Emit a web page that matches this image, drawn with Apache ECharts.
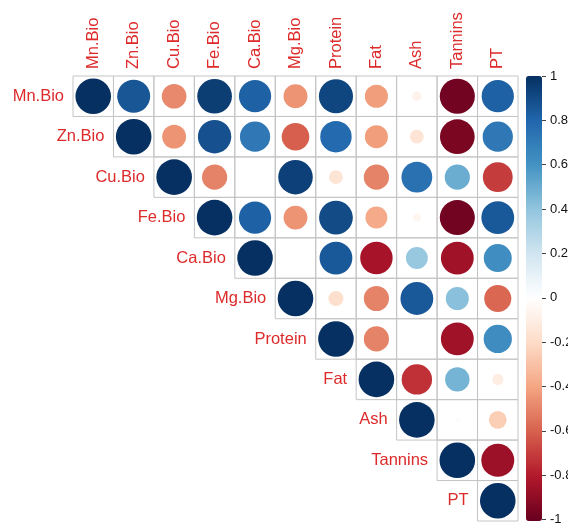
<!DOCTYPE html>
<html>
<head>
<meta charset="utf-8">
<script src="https://cdn.jsdelivr.net/npm/echarts@6/dist/echarts.min.js"></script>
<style>
  html, body { margin: 0; padding: 0; background: #fff; }
  #chart { width: 568px; height: 526px; }
</style>
</head>
<body>
<div id="chart"></div>
<script>
// Variable names (row and column order)
const variables = ['Mn.Bio', 'Zn.Bio', 'Cu.Bio', 'Fe.Bio', 'Ca.Bio', 'Mg.Bio', 'Protein', 'Fat', 'Ash', 'Tannins', 'PT'];

// Upper triangle of the correlation matrix, each row starting at the diagonal
const mnBio   = [1, 0.86, -0.48, 0.95, 0.82, -0.45, 0.92, -0.42, -0.07, -0.97, 0.82];
const znBio   = [1, -0.45, 0.88, 0.72, -0.60, 0.78, -0.42, -0.15, -0.95, 0.72];
const cuBio   = [1, -0.50, 0.00, 0.94, -0.15, -0.50, 0.75, 0.50, -0.70];
const feBio   = [1, 0.82, -0.45, 0.90, -0.38, -0.05, -0.97, 0.85];
const caBio   = [1, 0.01, 0.85, -0.83, 0.38, -0.85, 0.62];
const mgBio   = [1, -0.18, -0.50, 0.85, 0.42, -0.58];
const protein = [1, -0.50, 0.01, -0.85, 0.63];
const fat     = [1, -0.73, 0.47, -0.10];
const ash     = [1, 0.02, -0.25];
const tannins = [1, -0.86];
const pt      = [1];

const rows = [mnBio, znBio, cuBio, feBio, caBio, mgBio, protein, fat, ash, tannins, pt];

// Colour-bar tick settings
const barMin = -1;
const barMax = 1;
const barStep = 0.2;

// RdBu diverging palette, from -1 to 1
const rdbu = ['#67001F', '#B2182B', '#D6604D', '#F4A582', '#FDDBC7', '#FFFFFF',
              '#D1E5F0', '#92C5DE', '#4393C3', '#2166AC', '#053061'];

// [column, row, r]
const cells = [];
rows.forEach((vals, i) => {
  vals.forEach((v, k) => cells.push([i + k, i, v]));
});

const labelRed = '#DD2A2A';
const labelFont = 'Liberation Sans, Arial, sans-serif';

const chart = echarts.init(document.getElementById('chart'), null, { renderer: 'canvas' });

chart.setOption({
  backgroundColor: '#ffffff',
  animation: false,
  grid: [
    { left: 73, top: 76, width: 445, height: 445 },
    { left: 542, top: 76, width: 1, height: 445 }
  ],
  xAxis: [
    {
      type: 'category', data: variables, position: 'top', gridIndex: 0,
      axisLine: { show: false }, axisTick: { show: false }, splitLine: { show: false },
      axisLabel: { rotate: -90, margin: 7, color: labelRed, fontSize: 16.5, fontFamily: labelFont }
    },
    { type: 'value', gridIndex: 1, show: false, min: 0, max: 1 }
  ],
  yAxis: [
    {
      type: 'category', data: variables, inverse: true, gridIndex: 0,
      axisLine: { show: false }, axisTick: { show: false }, splitLine: { show: false },
      axisLabel: { show: false }
    },
    {
      type: 'value', gridIndex: 1, position: 'left', min: barMin, max: barMax, interval: barStep,
      axisLine: { show: false },
      axisTick: { show: true, inside: true, length: 4, lineStyle: { color: '#444' } },
      splitLine: { show: false },
      axisLabel: { inside: true, margin: 8, color: '#111', fontSize: 13, fontFamily: labelFont }
    }
  ],
  visualMap: {
    type: 'continuous',
    dimension: 2,
    min: barMin,
    max: barMax,
    calculable: false,
    realtime: false,
    left: 526,
    top: 76,
    itemWidth: 16,
    itemHeight: 445,
    padding: 0,
    text: null,
    inRange: { color: rdbu },
    seriesIndex: 0
  },
  series: [{
    type: 'custom',
    coordinateSystem: 'cartesian2d',
    xAxisIndex: 0,
    yAxisIndex: 0,
    data: cells,
    renderItem: function (params, api) {
      const col = api.value(0);
      const row = api.value(1);
      const r = api.value(2);
      const c = api.coord([col, row]);
      const s = api.size([1, 1]);
      const w = s[0], h = s[1];
      const children = [
        {
          type: 'rect',
          shape: { x: c[0] - w / 2, y: c[1] - h / 2, width: w, height: h },
          style: { fill: 'none', stroke: '#C4C4C4', lineWidth: 1 }
        },
        {
          type: 'circle',
          shape: { cx: c[0], cy: c[1], r: 0.44 * Math.min(w, h) * Math.sqrt(Math.abs(r)) },
          style: { fill: api.visual('color') }
        }
      ];
      if (col === row) {
        children.push({
          type: 'text',
          x: c[0] - w / 2 - 9,
          y: c[1],
          style: {
            text: variables[row], fill: labelRed, fontSize: 16.5, fontFamily: labelFont,
            align: 'right', verticalAlign: 'middle'
          }
        });
      }
      return { type: 'group', children: children };
    }
  }]
});
</script>
</body>
</html>
